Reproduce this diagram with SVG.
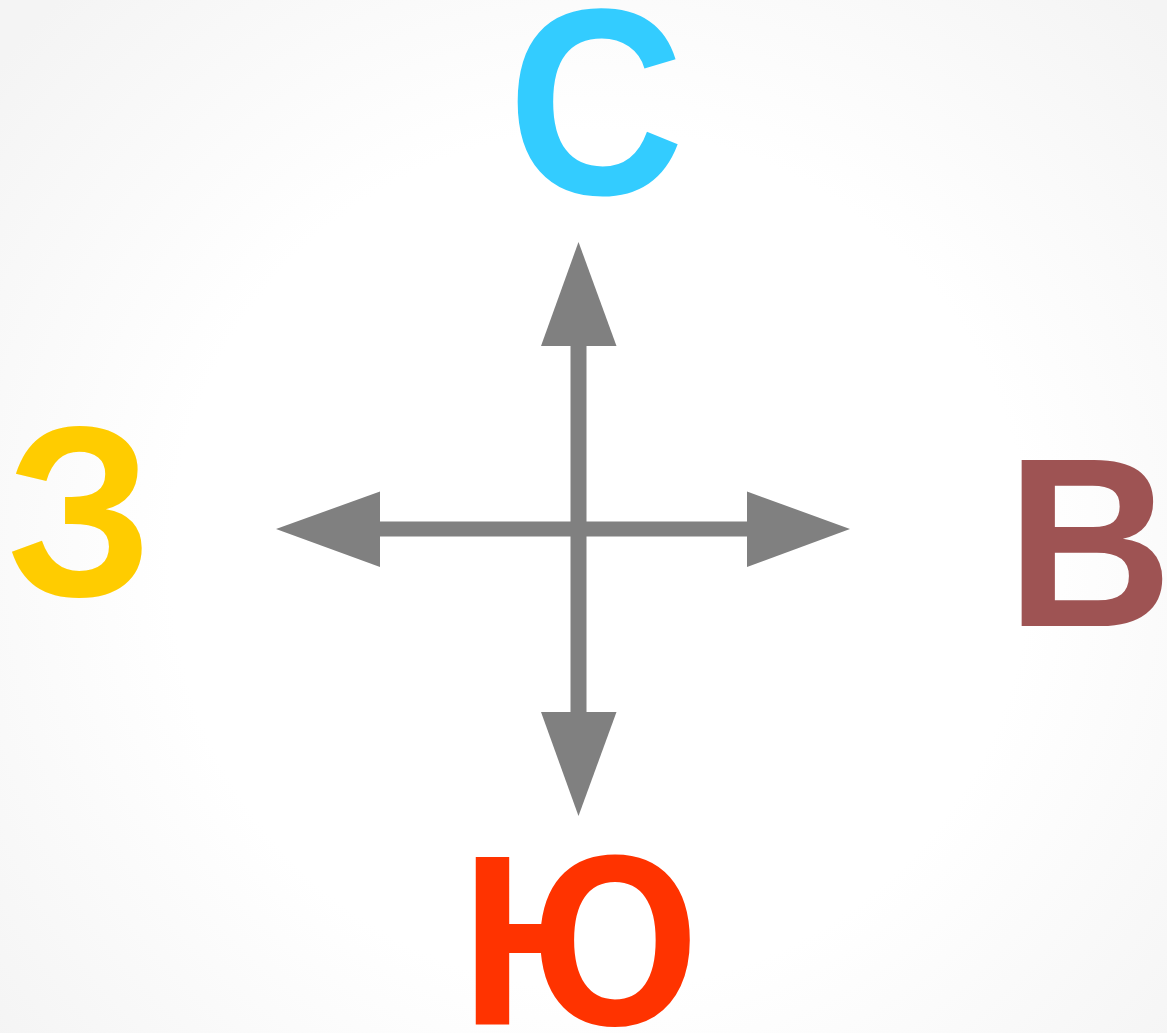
<svg xmlns="http://www.w3.org/2000/svg" width="1167" height="1033" viewBox="0 0 1167 1033">
<defs>
<radialGradient id="bg" cx="600" cy="560" r="780" gradientUnits="userSpaceOnUse">
<stop offset="0.55" stop-color="#ffffff"/>
<stop offset="1" stop-color="#f4f4f4"/>
</radialGradient>
<style>
.lbl{font-family:"Liberation Sans",Arial,sans-serif;font-weight:bold;text-anchor:middle}
.arr{fill:#808080}
</style>
</defs>
<rect width="1167" height="1033" fill="url(#bg)"/>
<g id="connectors">
<rect class="arr" x="570.5" y="344" width="16" height="370"/>
<rect class="arr" x="378" y="521.5" width="371" height="15"/>
<polygon class="arr" points="578.5,242 616.5,346 541,346"/>
<polygon class="arr" points="578.5,816 616.5,712 541,712"/>
<polygon class="arr" points="276,529 380,491.5 380,567"/>
<polygon class="arr" points="850,529 747,491.5 747,567"/>
</g>
<g id="north"><text class="lbl" transform="translate(596,194) scale(0.92,1)" font-size="266" fill="#33ccff">С</text></g>
<g id="east"><text class="lbl" transform="translate(1089.5,626) scale(0.952,1)" font-size="242" fill="#9e5353">В</text></g>
<g id="south"><text class="lbl" transform="translate(580,1025) scale(0.955,1)" font-size="243" fill="#ff3300">Ю</text></g>
<g id="west"><text class="lbl" transform="translate(79.5,596) scale(0.956,1)" font-size="243" fill="#ffcc00">З</text></g>
</svg>
